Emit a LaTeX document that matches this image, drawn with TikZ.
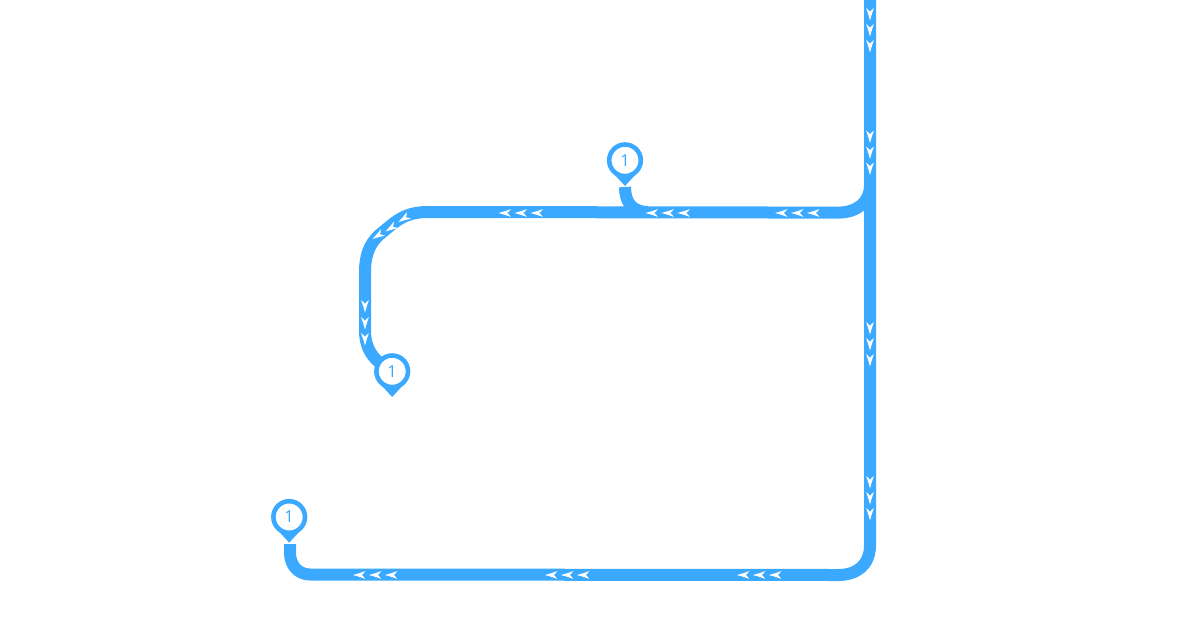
\documentclass[tikz,border=0pt]{standalone}
\usepackage{fontspec}
\setmainfont{Open Sans}
\usetikzlibrary{backgrounds}
\definecolor{routeblue}{HTML}{3BA9FF}
\tikzset{
  x=1pt,y=-1pt,
  route/.style={draw=routeblue,line width=12pt,line cap=butt,line join=round},
  pinhead/.style={circle,draw=routeblue,line width=4.6pt,fill=white,inner sep=0pt,minimum size=31.6pt,text=routeblue,font=\fontsize{16.5}{16.5}\selectfont},
  pintip/.style={fill=routeblue,draw=none},
  chev/.pic={\fill[white] (6.6,0) .. controls (2,-1.2) and (-2,-2.4) .. (-5.8,-3.9) .. controls (-4.6,-2) and (-3.4,-0.9) .. (-2.2,0) .. controls (-3.4,0.9) and (-4.6,2) .. (-5.8,3.9) .. controls (-2,2.4) and (2,1.2) .. (6.6,0) -- cycle;}
}
\begin{document}
\begin{tikzpicture}
\useasboundingbox (0,0) rectangle (1198,618);
% pins
\node[pinhead] (pinA) at (625,160.3) {1};
\node[pinhead] (pinB) at (392.2,371.3) {1};
\node[pinhead] (pinC) at (289.2,517) {1};
% route end points
\coordinate (top) at (870,-10);
\coordinate (forkR) at (870,185);
\coordinate (cornerBR) at (870,545);
\coordinate (botE) at (838,575);
\coordinate (botW) at (310,574.5);
\coordinate (endC) at (290,544);
\coordinate (midE) at (838,212.6);
\coordinate (midW) at (428,212);
\coordinate (leftT) at (365,272);
\coordinate (leftB) at (365,330);
\coordinate (startA) at (625,187);
\coordinate (joinA) at (648,212);
\begin{scope}[on background layer]
  \draw[route] (top) -- (cornerBR) .. controls (870,565) and (857,575) .. (botE) -- (botW) .. controls (298,574.5) and (290,565) .. (290,553) -- (endC);
  \draw[route] (forkR) .. controls (870,203) and (856,212.6) .. (midE) -- (midW) .. controls (412,212) and (402,216) .. (390,226) -- (378,236) .. controls (369,245) and (365,256) .. (leftT) -- (leftB) .. controls (365,348) and (372,360) .. (pinB.center);
  \draw[route] (startA) .. controls (625,202) and (632,212) .. (joinA);
  \foreach \p in {pinA,pinB,pinC}
    \fill[pintip] ([shift={(-14,10.5)}]\p.center) -- ([shift={(0,25.7)}]\p.center) -- ([shift={(14,10.5)}]\p.center) -- cycle;
\end{scope}
% flow chevrons, vertical
\foreach \yy in {14,30,46,136.5,152.5,168.5,328,344,360,482,498,514}
  \pic[rotate=-90] at (870,\yy) {chev};
\foreach \yy in {306,323,339}
  \pic[rotate=-90] at (365,\yy) {chev};
% flow chevrons, horizontal
\foreach \xx in {505,521,537,652,668,684,781.5,797.5,813.5}
  \pic[rotate=180] at (\xx,213) {chev};
\foreach \xx in {359.5,375.5,391.5,551.5,567.5,583.5,743.5,759.5,775.5}
  \pic[rotate=180] at (\xx,575) {chev};
% flow chevrons, on the bend
\pic[rotate=212] at (378,235.5) {chev};
\pic[rotate=212] at (391,228) {chev};
\pic[rotate=212] at (404,218.5) {chev};
\end{tikzpicture}
\end{document}
